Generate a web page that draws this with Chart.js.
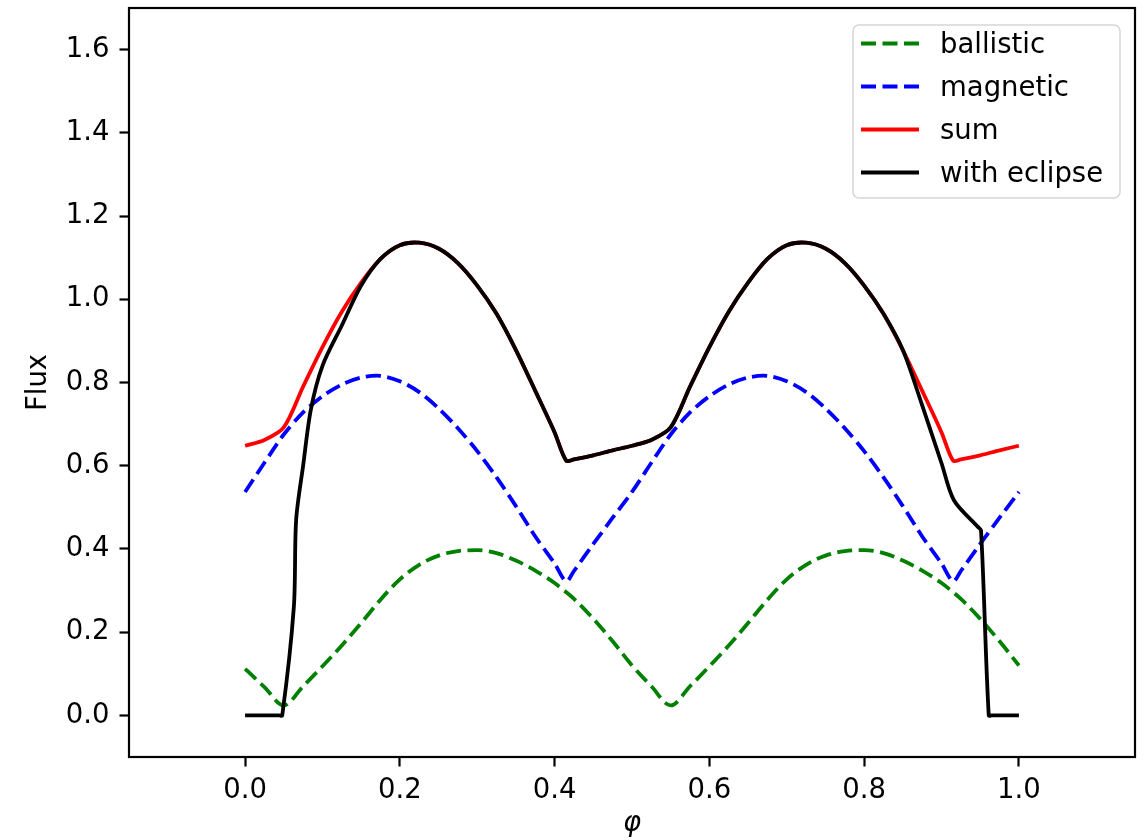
<!DOCTYPE html>
<html>
<head>
    <meta charset="UTF-8">
    <title>Flux vs phase</title>
    <script src="https://cdn.jsdelivr.net/npm/chart.js"></script>
    <style>
        html, body { margin: 0; padding: 0; background: #fff; }
    </style>
</head>
<body>
    <canvas id="fluxChart" width="1146" height="840"></canvas>
    <script>
        // phase grid shared by the three model curves
        const phase = [0, 0.025, 0.05, 0.075, 0.1, 0.125, 0.15, 0.175, 0.2, 0.225, 0.25, 0.275, 0.3, 0.325, 0.35, 0.375, 0.4, 0.415, 0.425, 0.45, 0.475,
                       0.5, 0.525, 0.55, 0.575, 0.6, 0.625, 0.65, 0.675, 0.7, 0.725, 0.75, 0.775, 0.8, 0.825, 0.85, 0.875, 0.9, 0.915, 0.925, 0.95, 0.975, 1.0];
        const ballistic = [0.112, 0.068, 0.024, 0.07, 0.118, 0.168, 0.222, 0.278, 0.327, 0.362, 0.384, 0.395, 0.397, 0.39, 0.372, 0.348, 0.318, 0.296, 0.28, 0.232, 0.178,
                           0.12, 0.07, 0.024, 0.07, 0.118, 0.168, 0.222, 0.278, 0.327, 0.362, 0.384, 0.395, 0.397, 0.39, 0.372, 0.348, 0.318, 0.296, 0.28, 0.232, 0.178, 0.12];
        const magnetic = [0.537, 0.607, 0.675, 0.728, 0.767, 0.795, 0.812, 0.816, 0.803, 0.777, 0.738, 0.69, 0.635, 0.572, 0.503, 0.43, 0.365, 0.322, 0.347, 0.412, 0.475,
                          0.537, 0.607, 0.675, 0.728, 0.767, 0.795, 0.812, 0.816, 0.803, 0.777, 0.738, 0.69, 0.635, 0.572, 0.503, 0.43, 0.365, 0.322, 0.347, 0.412, 0.475, 0.537];
        const sum = [0.648, 0.662, 0.692, 0.79, 0.885, 0.97, 1.04, 1.097, 1.13, 1.136, 1.122, 1.087, 1.033, 0.965, 0.878, 0.78, 0.68, 0.612, 0.615, 0.625, 0.637,
                     0.648, 0.662, 0.692, 0.79, 0.885, 0.97, 1.04, 1.097, 1.13, 1.136, 1.122, 1.087, 1.033, 0.965, 0.878, 0.78, 0.68, 0.612, 0.615, 0.625, 0.637, 0.648];

        // eclipsed light curve has its own sampling
        const eclipsePhase = [0, 0.025, 0.044, 0.048, 0.063, 0.066, 0.075, 0.085, 0.1, 0.125, 0.15, 0.175, 0.2, 0.225, 0.25, 0.275, 0.3, 0.325, 0.35, 0.375, 0.4, 0.415, 0.425, 0.45, 0.475,
                              0.5, 0.525, 0.55, 0.575, 0.6, 0.625, 0.65, 0.675, 0.7, 0.725, 0.75, 0.775, 0.8, 0.825, 0.85, 0.875, 0.9, 0.916, 0.947, 0.951, 0.961, 0.965, 0.975, 1.0];
        const withEclipse = [0, 0, 0, 0, 0.26, 0.47, 0.6, 0.735, 0.84, 0.937, 1.033, 1.097, 1.13, 1.136, 1.122, 1.087, 1.033, 0.965, 0.878, 0.78, 0.68, 0.612, 0.615, 0.625, 0.637,
                             0.648, 0.662, 0.692, 0.79, 0.885, 0.97, 1.04, 1.097, 1.13, 1.136, 1.122, 1.087, 1.033, 0.965, 0.878, 0.745, 0.606, 0.517, 0.453, 0.445, 0, 0, 0, 0];

        const seriesNames = ['ballistic', 'magnetic', 'sum', 'with eclipse'];
        const xTicks = [0, 0.2, 0.4, 0.6, 0.8, 1.0];
        const yTicks = [0, 0.2, 0.4, 0.6, 0.8, 1.0, 1.2, 1.4, 1.6];

        const FONT = 'DejaVu Sans';
        const FS = 27.5;
        const pts = (xs, ys) => xs.map((x, i) => ({ x: x, y: ys[i] }));

        // matplotlib style box + legend in upper right
        const frameLegend = {
            id: 'frameLegend',
            afterDraw(chart) {
                const ctx = chart.ctx;
                const a = chart.chartArea;
                ctx.save();
                ctx.strokeStyle = '#000';
                ctx.lineWidth = 2.2;
                ctx.strokeRect(a.left, a.top, a.right - a.left, a.bottom - a.top);

                const bx = 853, by = 25, bw = 267, bh = 173, r = 6;
                ctx.beginPath();
                ctx.moveTo(bx + r, by);
                ctx.arcTo(bx + bw, by, bx + bw, by + bh, r);
                ctx.arcTo(bx + bw, by + bh, bx, by + bh, r);
                ctx.arcTo(bx, by + bh, bx, by, r);
                ctx.arcTo(bx, by, bx + bw, by, r);
                ctx.closePath();
                ctx.fillStyle = 'rgba(255,255,255,0.8)';
                ctx.fill();
                ctx.strokeStyle = '#d6d6d6';
                ctx.lineWidth = 1.5;
                ctx.stroke();

                ctx.font = FS + 'px "' + FONT + '"';
                ctx.textBaseline = 'alphabetic';
                ctx.textAlign = 'left';
                chart.data.datasets.forEach((ds, i) => {
                    const base = 53 + i * 43;
                    const y = base - 9.5;
                    ctx.beginPath();
                    ctx.setLineDash(ds.borderDash || []);
                    ctx.strokeStyle = ds.borderColor;
                    ctx.lineWidth = ds.borderWidth;
                    ctx.moveTo(861, y);
                    ctx.lineTo(919, y);
                    ctx.stroke();
                    ctx.setLineDash([]);
                    ctx.fillStyle = '#000';
                    ctx.fillText(ds.label, 940, base);
                });
                ctx.restore();
            }
        };

        const ctx = document.getElementById('fluxChart').getContext('2d');
        new Chart(ctx, {
            type: 'line',
            data: {
                datasets: [
                    { label: seriesNames[0], data: pts(phase, ballistic), borderColor: '#008000', borderDash: [15, 6.5], borderWidth: 3.8, order: 3, cubicInterpolationMode: 'monotone' },
                    { label: seriesNames[1], data: pts(phase, magnetic), borderColor: '#0000ff', borderDash: [15, 6.5], borderWidth: 3.8, order: 2, tension: 0.3 },
                    { label: seriesNames[2], data: pts(phase, sum), borderColor: '#ff0000', borderWidth: 3.8, order: 1, tension: 0.3 },
                    { label: seriesNames[3], data: pts(eclipsePhase, withEclipse), borderColor: '#000000', borderWidth: 3.8, order: 0, tension: 0.3 }
                ]
            },
            options: {
                responsive: false,
                animation: false,
                devicePixelRatio: 1,
                layout: { padding: { top: 8, right: 11, left: 0, bottom: 0 } },
                elements: {
                    point: { radius: 0, hoverRadius: 0 },
                    line: { fill: false, borderCapStyle: 'butt', borderJoinStyle: 'round' }
                },
                plugins: {
                    legend: { display: false },
                    tooltip: { enabled: false }
                },
                scales: {
                    x: {
                        type: 'linear',
                        min: -0.15,
                        max: 1.15,
                        afterBuildTicks: s => { s.ticks = xTicks.map(v => ({ value: v })); },
                        afterFit: s => { s.height = 83; s.paddingLeft = 0; s.paddingRight = 0; },
                        border: { display: false },
                        grid: { drawOnChartArea: false, drawTicks: true, tickLength: 9.5, tickWidth: 2.2, tickColor: '#000' },
                        ticks: { padding: 8, color: '#000', font: { family: FONT, size: FS }, maxRotation: 0, callback: v => v.toFixed(1) },
                        title: { display: true, text: 'φ', color: '#000', font: { family: FONT, size: FS, style: 'italic', lineHeight: 1.2 }, padding: { top: 0, bottom: 0 } }
                    },
                    y: {
                        min: -0.1,
                        max: 1.7,
                        afterBuildTicks: s => { s.ticks = yTicks.map(v => ({ value: v })); },
                        afterFit: s => { s.width = 129; s.paddingTop = 0; s.paddingBottom = 0; },
                        border: { display: false },
                        grid: { drawOnChartArea: false, drawTicks: true, tickLength: 9.5, tickWidth: 2.2, tickColor: '#000' },
                        ticks: { padding: 10, color: '#000', font: { family: FONT, size: FS }, callback: v => v.toFixed(1) },
                        title: { display: true, text: 'Flux', color: '#000', font: { family: FONT, size: FS, lineHeight: 1.2 }, padding: { top: 22, bottom: 0 } }
                    }
                }
            },
            plugins: [frameLegend]
        });
    </script>
</body>
</html>
